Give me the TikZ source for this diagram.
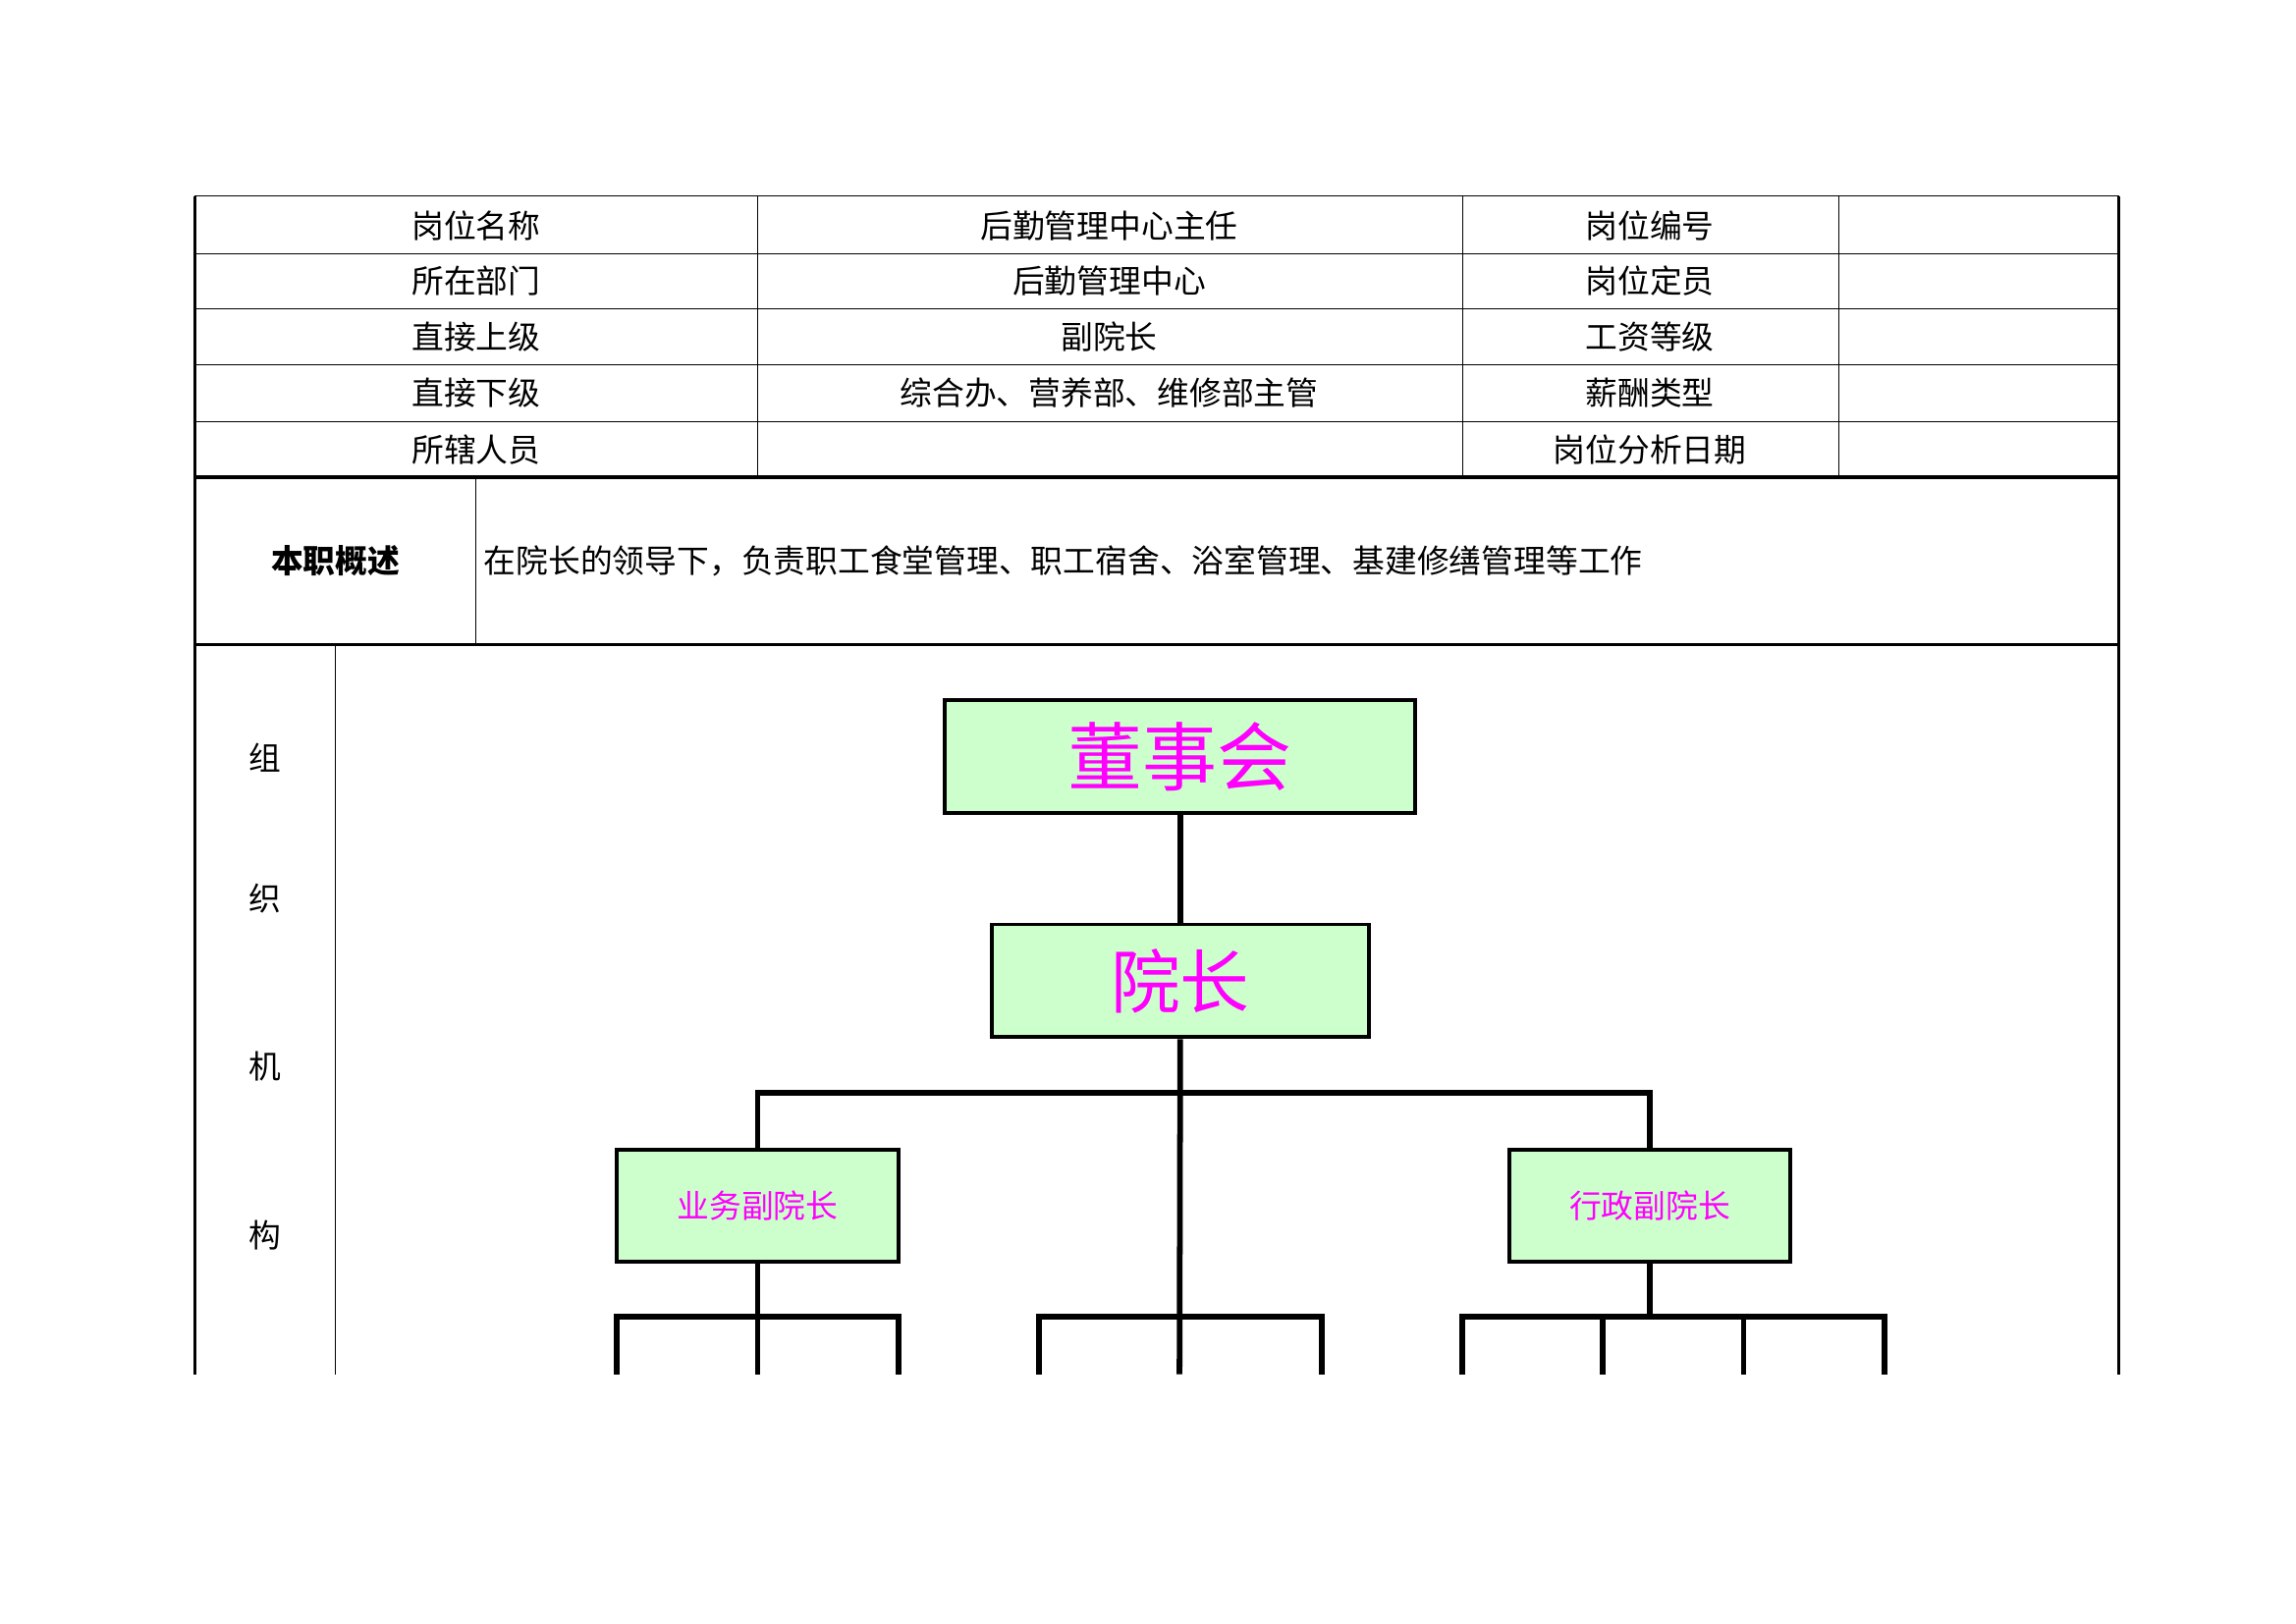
\documentclass[tikz,border=0pt]{standalone}
\usepackage{fontspec}
\setmainfont{Noto Sans CJK SC}
\usetikzlibrary{positioning}
\definecolor{pinktext}{rgb}{1,0,1}
\tikzset{
	cell/.style={font=\fontsize{12.5}{14}\selectfont},
	orgbox/.style={draw, line width=1.5pt, fill=green!20!white, text=pinktext, inner sep=0pt},
	link/.style={line width=2.2pt}
}

\begin{document}
\begin{tikzpicture}[x=0.02cm, y=-0.02cm]
	\useasboundingbox (0, 0) rectangle (1567, 1108);
	% table grid
	\draw[thin] (133, 134) -- (1446, 134);
	\foreach \y in {173, 211, 249, 288}
		\draw (133, \y) -- (1446, \y);
	\foreach \x in {517, 998, 1255}
		\draw (\x, 134) -- (\x, 326);
	\draw[line width=1.5pt] (133, 326) -- (1446, 326);
	\draw[line width=1.5pt] (133, 440) -- (1446, 440);
	\draw (325, 326) -- (325, 440);
	\draw (229, 440) -- (229, 938);
	\draw[line width=1pt] (133, 134) -- (133, 938);
	\draw[line width=1.5pt] (1446, 134) -- (1446, 938);

	% table texts
	\node[cell] (name) at (325, 154) {岗位名称};
	\node[cell] (namev) at (757, 154) {后勤管理中心主任};
	\node[cell] (code) at (1126, 154) {岗位编号};
	\node[cell] (dept) at (325, 192) {所在部门};
	\node[cell] (deptv) at (757, 192) {后勤管理中心};
	\node[cell] (quota) at (1126, 192) {岗位定员};
	\node[cell] (boss) at (325, 230) {直接上级};
	\node[cell] (bossv) at (757, 230) {副院长};
	\node[cell] (grade) at (1126, 230) {工资等级};
	\node[cell] (sub) at (325, 268) {直接下级};
	\node[cell] (subv) at (757, 268) {综合办、营养部、维修部主管};
	\node[cell] (pay) at (1126, 268) {薪酬类型};
	\node[cell] (staff) at (325, 307) {所辖人员};
	\node[cell] (date) at (1126, 307) {岗位分析日期};
	\node[cell, font=\fontsize{12.5}{14}\selectfont\bfseries] (sum) at (229, 383) {本职概述};
	\node[cell, anchor=west, inner sep=0pt] (sumv) at (330, 383) {在院长的领导下，负责职工食堂管理、职工宿舍、浴室管理、基建修缮管理等工作};
	\node[cell] (org1) at (181, 517) {组};
	\node[cell] (org2) at (181, 613) {织};
	\node[cell] (org3) at (181, 728) {机};
	\node[cell] (org4) at (181, 843) {构};

	% org chart
	\node[orgbox, minimum width=321*0.02cm, minimum height=77*0.02cm, font=\fontsize{29}{32}\selectfont] (board) at (805.5, 516.5) {董事会};
	\node[orgbox, minimum width=257*0.02cm, minimum height=77*0.02cm, font=\fontsize{27}{30}\selectfont] (dean) at (805.5, 669.5) {院长};
	\node[orgbox, minimum width=192*0.02cm, minimum height=76*0.02cm, font=\fontsize{12.5}{14}\selectfont] (vpa) at (517, 823) {业务副院长};
	\node[orgbox, minimum width=192*0.02cm, minimum height=76*0.02cm, font=\fontsize{12.5}{14}\selectfont] (vpb) at (1126, 823) {行政副院长};

	\draw[link] (board) -- (dean);
	\draw[link] (dean.south) -- (805, 938);
	\draw[link] (vpa.north) -- (517, 746) -- (1126, 746) -- (vpb.north);
	\draw[link] (vpa.south) -- (517, 899);
	\draw[link] (vpb.south) -- (1126, 899);
	\draw[link] (421, 938) -- (421, 899) -- (613, 899) -- (613, 938);
	\draw[link] (517, 899) -- (517, 938);
	\draw[link] (709, 938) -- (709, 899) -- (902, 899) -- (902, 938);
	\draw[link] (998, 938) -- (998, 899) -- (1286, 899) -- (1286, 938);
	\foreach \x in {1094, 1190}
		\draw[link] (\x, 899) -- (\x, 938);
\end{tikzpicture}
\end{document}
